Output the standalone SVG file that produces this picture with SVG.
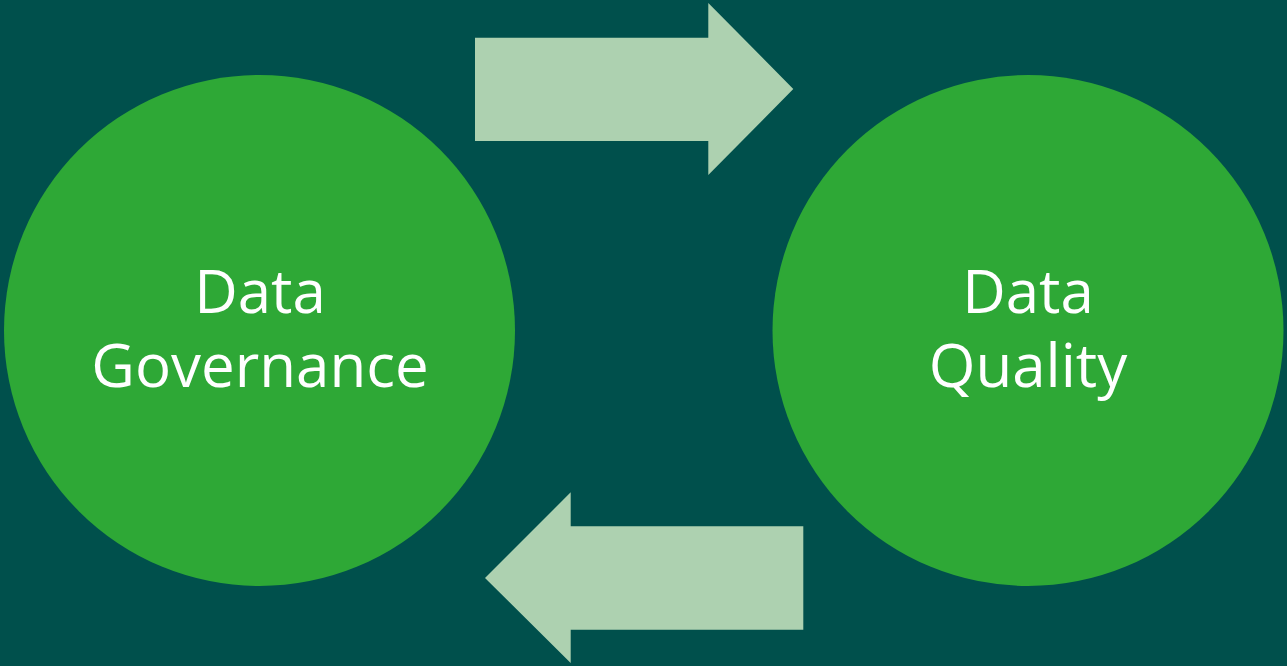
<svg xmlns="http://www.w3.org/2000/svg" width="1287" height="666" viewBox="0 0 1287 666">
<style>
.node{fill:#2ea836}
.lbl{fill:#ffffff;font-family:"Open Sans","Liberation Sans",sans-serif;font-size:60px;text-anchor:middle}
.arrow{fill:#add1b0}
</style>
<rect width="1287" height="666" fill="#00504c"/>
<g id="node-governance">
<ellipse class="node" cx="259.5" cy="330.5" rx="255.5" ry="255.5"/>
<text class="lbl" x="260" y="313">Data</text>
<text class="lbl" x="260" y="387">Governance</text>
</g>
<g id="node-quality">
<ellipse class="node" cx="1028" cy="330.5" rx="255.5" ry="255.5"/>
<text class="lbl" x="1028" y="313">Data</text>
<text class="lbl" x="1028" y="387">Quality</text>
</g>
<g id="connectors">
<polygon class="arrow" points="475,37.7 708.3,37.7 708.3,3 793.3,89 708.3,175 708.3,141 475,141"/>
<polygon class="arrow" points="803.3,526.3 570.7,526.3 570.7,492.3 485,578 570.7,663 570.7,629.7 803.3,629.7"/>
</g>
</svg>
